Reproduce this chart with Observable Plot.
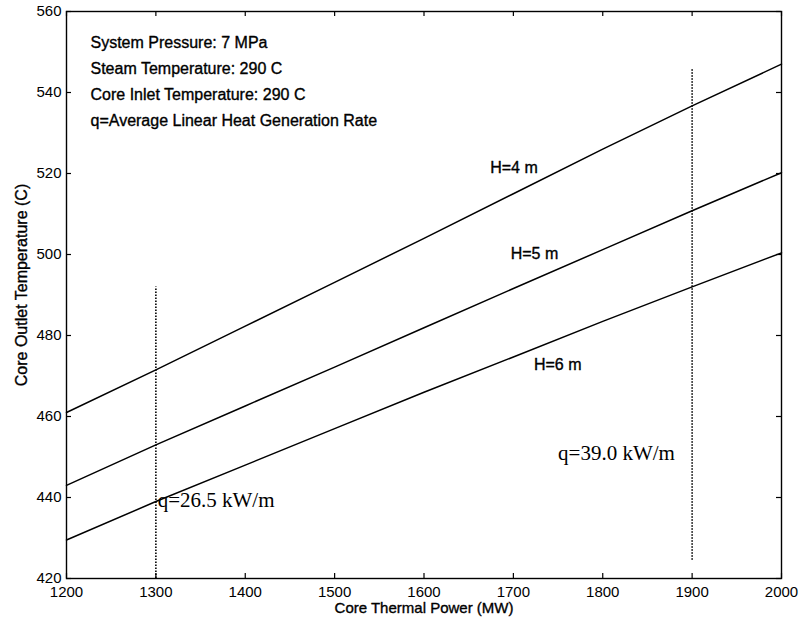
<!DOCTYPE html>
<html>
<head>
<meta charset="utf-8">
<script src="https://cdn.jsdelivr.net/npm/d3@7"></script>
<script src="https://cdn.jsdelivr.net/npm/@observablehq/plot@0.6"></script>
<style>
  body { margin: 0; background: #fff; }
  #chart svg { display: block; }
</style>
</head>
<body>
<div id="chart"></div>
<script>
// Core thermal power (MW) sampled along each curve
const power = [1200, 1300, 1400, 1500, 1600, 1700, 1800, 1900, 2000];

// Core outlet temperature (C) for each core height
const tempH4 = [461, 471.5, 482.3, 493.1, 504, 515, 526, 536.7, 547];
const tempH5 = [443, 453, 462.6, 472.2, 481.9, 491.6, 501.2, 510.8, 520.2];
const tempH6 = [429.5, 439, 448, 457, 466, 474.7, 483.5, 492, 500.4];

const heights = ["H=4 m", "H=5 m", "H=6 m"];
const series = [tempH4, tempH5, tempH6];

// Axis ticks
const xTicks = [1200, 1300, 1400, 1500, 1600, 1700, 1800, 1900, 2000];
const yTicks = [420, 440, 460, 480, 500, 520, 540, 560];

// Average linear heat generation rate markers
const qPower = [1300, 1900];
const qTop = [492, 545.7];
const qBottom = [420, 424.5];
const qText = ["q=26.5 kW/m", "q=39.0 kW/m"];
const qLabelPower = [1302, 1750];
const qLabelTemp = [439.3, 450.9];

// Curve labels
const hLabelPower = [1674, 1697, 1723];
const hLabelTemp = [521.4, 500.1, 472.7];

const notes = [
  "System Pressure: 7 MPa",
  "Steam Temperature: 290 C",
  "Core Inlet Temperature: 290 C",
  "q=Average Linear Heat Generation Rate"
];

const rows = heights.flatMap((h, i) =>
  power.map((p, j) => ({ height: h, power: p, temp: series[i][j] }))
);
const qRules = qPower.map((p, i) => ({ power: p, y1: qBottom[i], y2: qTop[i] }));
const qLabels = qText.map((t, i) => ({ text: t, power: qLabelPower[i], temp: qLabelTemp[i] }));
const hLabels = heights.map((h, i) => ({ text: h, power: hLabelPower[i], temp: hLabelTemp[i] }));

const sans = "'Liberation Sans', Arial, Helvetica, sans-serif";
const serif = "'Liberation Serif', 'Times New Roman', serif";

const W = 801, H = 623;
const mL = 66, mR = 20, mT = 11, mB = 45;
const plotW = W - mL - mR, plotH = H - mT - mB;
const tick = 5; // inward tick length in pixels

// slightly heavier glyphs for the sans-serif labels
const ink = { fill: "#000", stroke: "#000", strokeWidth: 0.35 };

const chart = Plot.plot({
  width: W,
  height: H,
  marginLeft: mL,
  marginRight: mR,
  marginTop: mT,
  marginBottom: mB,
  style: { fontFamily: sans, fontSize: "15px", color: "#000", background: "#fff" },
  x: { domain: [1200, 2000] },
  y: { domain: [420, 560] },
  marks: [
    // inward ticks on all four sides
    Plot.ruleX(xTicks, { stroke: "#000", strokeWidth: 1.2, insetTop: plotH - tick }),
    Plot.ruleX(xTicks, { stroke: "#000", strokeWidth: 1.2, insetBottom: plotH - tick }),
    Plot.ruleY(yTicks, { stroke: "#000", strokeWidth: 1.2, insetRight: plotW - tick }),
    Plot.ruleY(yTicks, { stroke: "#000", strokeWidth: 1.2, insetLeft: plotW - tick }),
    Plot.frame({ stroke: "#000", strokeWidth: 1.4 }),
    Plot.axisX(xTicks, {
      anchor: "bottom", tickSize: 0, tickPadding: 8, fontSize: 15,
      tickFormat: "d", label: null, ...ink
    }),
    Plot.axisY(yTicks, {
      anchor: "left", tickSize: 0, tickPadding: 5, fontSize: 15,
      tickFormat: "d", label: null, ...ink
    }),
    Plot.text(["Core Thermal Power (MW)"], {
      frameAnchor: "bottom", dy: 30, lineAnchor: "middle", textAnchor: "middle",
      fontSize: 15, ...ink
    }),
    Plot.text(["Core Outlet Temperature (C)"], {
      frameAnchor: "left", dx: -45, dy: -10, rotate: -90,
      textAnchor: "middle", lineAnchor: "middle",
      fontSize: 16, ...ink
    }),
    Plot.ruleX(qRules, {
      x: "power", y1: "y1", y2: "y2",
      stroke: "#000", strokeWidth: 1.6, strokeDasharray: "1.5,1.5"
    }),
    Plot.line(rows, {
      x: "power", y: "temp", z: "height",
      stroke: "#000", strokeWidth: 1.5
    }),
    Plot.text(hLabels, {
      x: "power", y: "temp", text: "text",
      textAnchor: "start", fontSize: 16, ...ink
    }),
    Plot.text(qLabels, {
      x: "power", y: "temp", text: "text",
      textAnchor: "start", fontSize: 21, fontFamily: serif, fill: "#000"
    }),
    Plot.text([notes.join("\n")], {
      frameAnchor: "top-left", dx: 24, dy: 18,
      textAnchor: "start", lineAnchor: "top", lineHeight: 1.63,
      fontSize: 16, ...ink
    })
  ]
});

document.getElementById("chart").appendChild(chart);
</script>
</body>
</html>
